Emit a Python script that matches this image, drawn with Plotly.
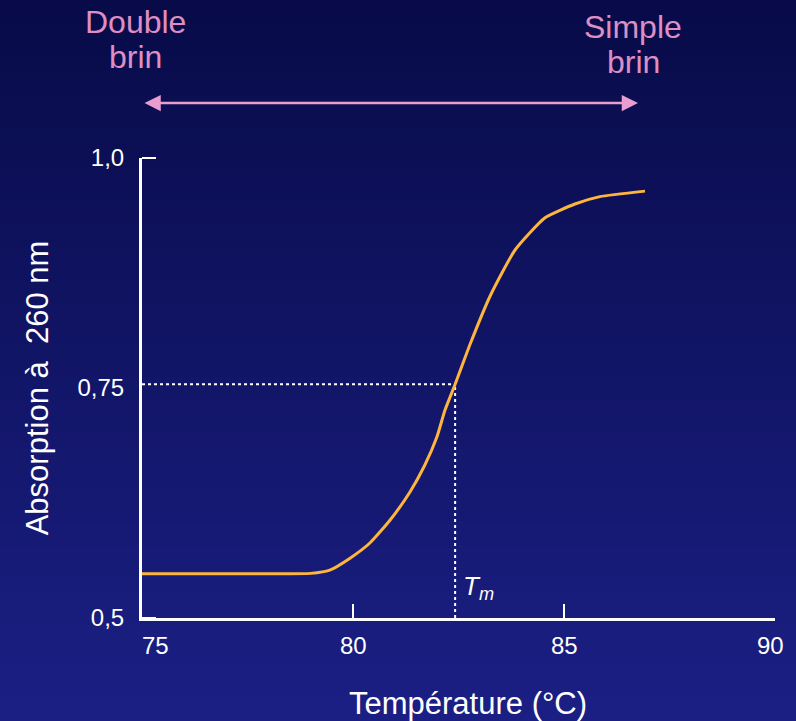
import plotly.graph_objects as go

# ---- data ----
temperature = [75, 76.5, 78, 79.0, 79.45, 79.93, 80.4, 80.88, 81.35, 81.7, 81.99, 82.18, 82.42,
               82.77, 83.25, 83.84, 84.55, 85.26, 85.85, 86.92]
absorbance = [0.548, 0.548, 0.548, 0.5485, 0.552, 0.565, 0.5815, 0.6065, 0.637, 0.666, 0.697,
              0.726, 0.754, 0.797, 0.85, 0.9, 0.935, 0.95, 0.958, 0.964]
tm_value = 82.42
tm_absorbance = 0.754
x_ticks = [75, 80, 85, 90]
x_ticklabels = ["75", "80", "85", "90"]
y_ticks = [0.5, 0.75, 1.0]
y_ticklabels = ["0,5", "0,75", "1,0"]
y_tick_marks = [0.5, 1.0]
x_range = [75, 90]
y_range = [0.5, 1.0]

FONT = "Liberation Sans, Arial, sans-serif"
PINK_TXT = "#DE8EC3"
PINK_ARROW = "#EA9ECF"
ORANGE = "#FDB53E"

W, H = 796, 721
ML, MR, MT, MB = 142, 21, 158, 103
ph = H - MT - MB
pw = W - ML - MR

fig = go.Figure()

# dotted guide lines to Tm
fig.add_trace(go.Scatter(x=[x_range[0], tm_value], y=[tm_absorbance, tm_absorbance], mode="lines",
                         line=dict(color="white", width=2, dash="dot"), hoverinfo="skip", showlegend=False))
fig.add_trace(go.Scatter(x=[tm_value, tm_value], y=[y_range[0], tm_absorbance], mode="lines",
                         line=dict(color="white", width=2, dash="dot"), hoverinfo="skip", showlegend=False))
# melting curve
fig.add_trace(go.Scatter(x=temperature, y=absorbance, mode="lines",
                         line=dict(color=ORANGE, width=3, shape="spline", smoothing=0.5),
                         showlegend=False))

# background gradient
shapes = []
n = 90
top = (8, 11, 72)
bot = (27, 31, 132)
y_lo = -MB / ph
y_hi = 1 + MT / ph
for i in range(n):
    t = i / (n - 1)
    c = tuple(round(top[k] + (bot[k] - top[k]) * t) for k in range(3))
    y1 = y_hi - (y_hi - y_lo) * i / n
    y0 = y_hi - (y_hi - y_lo) * (i + 1) / n
    shapes.append(dict(type="rect", xref="paper", yref="paper", x0=-0.3, x1=1.1, y0=y0 - 0.002, y1=y1,
                       fillcolor="rgb(%d,%d,%d)" % c, line=dict(width=0), layer="below"))

annotations = []
# x tick labels
for v, t in zip(x_ticks, x_ticklabels):
    shift = 13 if v == x_range[0] else (-5 if v == x_range[1] else 0)
    annotations.append(dict(x=v, y=0, xref="x", yref="paper", text=t, showarrow=False,
                            xanchor="center", yanchor="top", yshift=-12, xshift=shift,
                            font=dict(family=FONT, size=24, color="white")))
# x axis title
annotations.append(dict(x=(468 - ML) / pw, y=(H - 703 - MB) / ph, xref="paper", yref="paper",
                        text="Température (°C)", showarrow=False, xanchor="center", yanchor="middle",
                        font=dict(family=FONT, size=31, color="white")))
# Tm label
annotations.append(dict(x=tm_value, y=0.5, xref="x", yref="y", text="<i>T<sub>m</sub></i>", showarrow=False,
                        xanchor="left", yanchor="bottom", xshift=6, yshift=12,
                        font=dict(family=FONT, size=26, color="white")))
# top labels (pixel positions converted to paper coords)
for px, py, txt in [(135, 22, "Double"), (135, 57, "brin"), (633, 27, "Simple"), (633, 62, "brin")]:
    annotations.append(dict(x=(px - ML) / pw, y=(H - py - MB) / ph, xref="paper", yref="paper", text=txt,
                            xanchor="center", yanchor="middle",
                            showarrow=False, font=dict(family=FONT, size=32, color=PINK_TXT)))
# double arrow
arrow_y = (H - 103 - MB) / ph
annotations.append(dict(x=(638 - ML) / pw, y=arrow_y, ax=143 - 638, ay=0,
                        xref="paper", yref="paper", axref="pixel", ayref="pixel", text="",
                        showarrow=True, arrowhead=2, startarrowhead=2, arrowside="end+start",
                        arrowsize=1.3, startarrowsize=1.3, arrowwidth=2.5, arrowcolor=PINK_ARROW))

fig.update_layout(
    width=W, height=H,
    margin=dict(l=ML, r=MR, t=MT, b=MB),
    paper_bgcolor="rgb(18,21,100)",
    plot_bgcolor="rgba(0,0,0,0)",
    shapes=shapes,
    annotations=annotations,
    font=dict(family=FONT, color="white"),
    xaxis=dict(range=x_range, tickvals=x_ticks, ticktext=x_ticklabels, showticklabels=False,
               ticks="inside", ticklen=14, tickwidth=2, tickcolor="white",
               showline=True, linecolor="white", linewidth=3, showgrid=False, zeroline=False),
    yaxis=dict(range=y_range, tickvals=y_ticks, ticktext=y_ticklabels,
               ticks="", ticklabelstandoff=10,
               minor=dict(tickvals=y_tick_marks, ticks="inside", ticklen=14, tickwidth=2, tickcolor="white",
                          showgrid=False),
               showline=True, linecolor="white", linewidth=3, showgrid=False, zeroline=False,
               tickfont=dict(family=FONT, size=24, color="white"),
               title=dict(text="Absorption à  260 nm", font=dict(family=FONT, size=31, color="white"),
                          standoff=20)),
)

fig.write_html("out.html", config={"displayModeBar": False},
               post_script="document.body.style.margin='0';document.body.style.overflow='hidden';")
